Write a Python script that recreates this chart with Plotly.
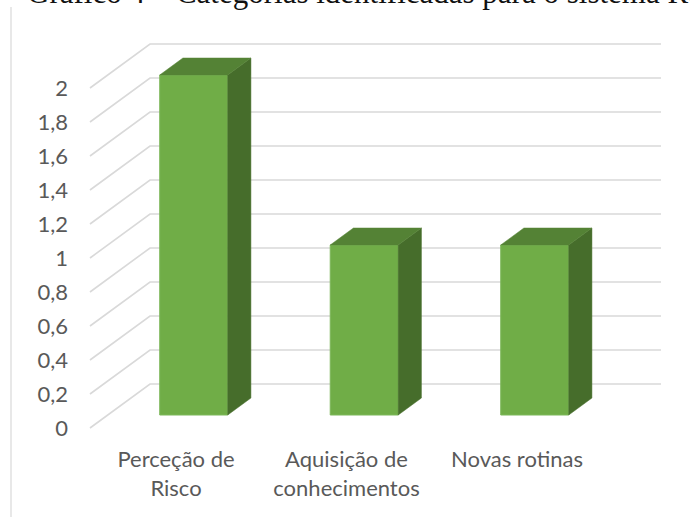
import plotly.graph_objects as go

categories = ["Perceção de<br>Risco", "Aquisição de<br>conhecimentos", "Novas rotinas"]
values = [2, 1, 1]
tick_values = [0, 0.2, 0.4, 0.6, 0.8, 1, 1.2, 1.4, 1.6, 1.8, 2]
tick_labels = ["0", "0,2", "0,4", "0,6", "0,8", "1", "1,2", "1,4", "1,6", "1,8", "2"]
title_text = "Gráfico 4 – Categorias identificadas para o sistema Reflexivo"

W, H = 690, 517
PX_X = 170.5   # pixels per category
PX_Y = 170.0   # pixels per value unit
X0_PX = 176.0  # pixel of category 0 on the front floor edge
Y0_PX = 428.0  # pixel of value 0 on the front floor edge
AXIS_L = 69.0
AXIS_B = 444.0

# oblique projection: depth 1 = back wall
SHEAR_X = 60.0 / PX_X
SHEAR_Y = 44.0 / PX_Y
BAR_FRONT = 13.0 / 44.0
BAR_BACK = 30.0 / 44.0
BAR_W = 68.0 / PX_X
FLOOR_L = (90.0 - X0_PX) / PX_X
WALL_R = (661.0 - X0_PX) / PX_X


def proj(x, v, d):
    return x + d * SHEAR_X, v + d * SHEAR_Y


GRID = "#D9D9D9"
TEXT = "#595959"
FRONT = "#70AD47"
TOP = "#548235"
SIDE = "#466D2B"

fig = go.Figure()

for v in tick_values:
    x1, y1 = proj(FLOOR_L, v, 1)
    fig.add_trace(go.Scatter(
        x=[FLOOR_L, x1, WALL_R], y=[v, y1, y1], mode="lines",
        line=dict(color=GRID, width=1.6), hoverinfo="skip", showlegend=False,
    ))

xs = list(range(len(categories)))
for i, v in zip(xs, values):
    l, r = i - BAR_W / 2, i + BAR_W / 2
    a = proj(r, 0, BAR_FRONT)
    b = proj(r, 0, BAR_BACK)
    c = proj(r, v, BAR_BACK)
    d = proj(r, v, BAR_FRONT)
    fig.add_trace(go.Scatter(
        x=[a[0], b[0], c[0], d[0], a[0]], y=[a[1], b[1], c[1], d[1], a[1]],
        xaxis="x2", yaxis="y2",
        mode="lines", fill="toself", fillcolor=SIDE, line=dict(color=SIDE, width=0.5),
        hoverinfo="skip", showlegend=False,
    ))
    e = proj(l, v, BAR_FRONT)
    f = proj(l, v, BAR_BACK)
    fig.add_trace(go.Scatter(
        x=[e[0], f[0], c[0], d[0], e[0]], y=[e[1], f[1], c[1], d[1], e[1]],
        xaxis="x2", yaxis="y2",
        mode="lines", fill="toself", fillcolor=TOP, line=dict(color=TOP, width=0.5),
        hoverinfo="skip", showlegend=False,
    ))

front_x = [proj(i, 0, BAR_FRONT)[0] for i in xs]
front_base = proj(0, 0, BAR_FRONT)[1]
fig.add_trace(go.Bar(
    x=front_x, y=values, base=front_base, width=BAR_W,
    xaxis="x2", yaxis="y2",
    marker=dict(color=FRONT, line=dict(color="#7DB85A", width=1)), showlegend=False,
))

x_range = [(AXIS_L - X0_PX) / PX_X, (W - X0_PX) / PX_X]
y_range = [(Y0_PX - AXIS_B) / PX_Y, Y0_PX / PX_Y]
x_domain = [AXIS_L / W, 1]
y_domain = [(H - AXIS_B) / H, 1]

fig.update_layout(
    width=W, height=H, autosize=False,
    margin=dict(l=0, r=0, t=0, b=0),
    paper_bgcolor="white", plot_bgcolor="white",
    font=dict(family="Lato", color=TEXT, size=22),
    title=dict(
        text=title_text, x=27 / W, xanchor="left", xref="paper",
        y=1 - 3.0 / H, yref="container", yanchor="bottom",
        font=dict(family="Liberation Serif", size=31, color="#111111"),
    ),
    xaxis=dict(
        domain=x_domain, range=x_range,
        tickmode="array", tickvals=xs, ticktext=categories,
        tickfont=dict(size=22, family="Lato", color=TEXT),
        showgrid=False, zeroline=False, showline=False, ticks="",
    ),
    yaxis=dict(
        domain=y_domain, range=y_range,
        tickmode="array", tickvals=tick_values, ticktext=tick_labels,
        tickfont=dict(size=22, family="Lato", color=TEXT),
        showgrid=False, zeroline=False, showline=False, ticks="",
    ),
    xaxis2=dict(domain=x_domain, range=x_range, overlaying="x", visible=False),
    yaxis2=dict(domain=y_domain, range=y_range, overlaying="y", visible=False),
    shapes=[dict(
        type="line", xref="paper", yref="paper", x0=11 / W, x1=11 / W, y0=-0.2, y1=1 - 7 / H,
        line=dict(color=GRID, width=1.2),
    )],
)

fig.write_html(
    "out.html",
    config={"displayModeBar": False},
    post_script="document.body.style.margin='0';document.body.style.overflow='hidden';",
)
